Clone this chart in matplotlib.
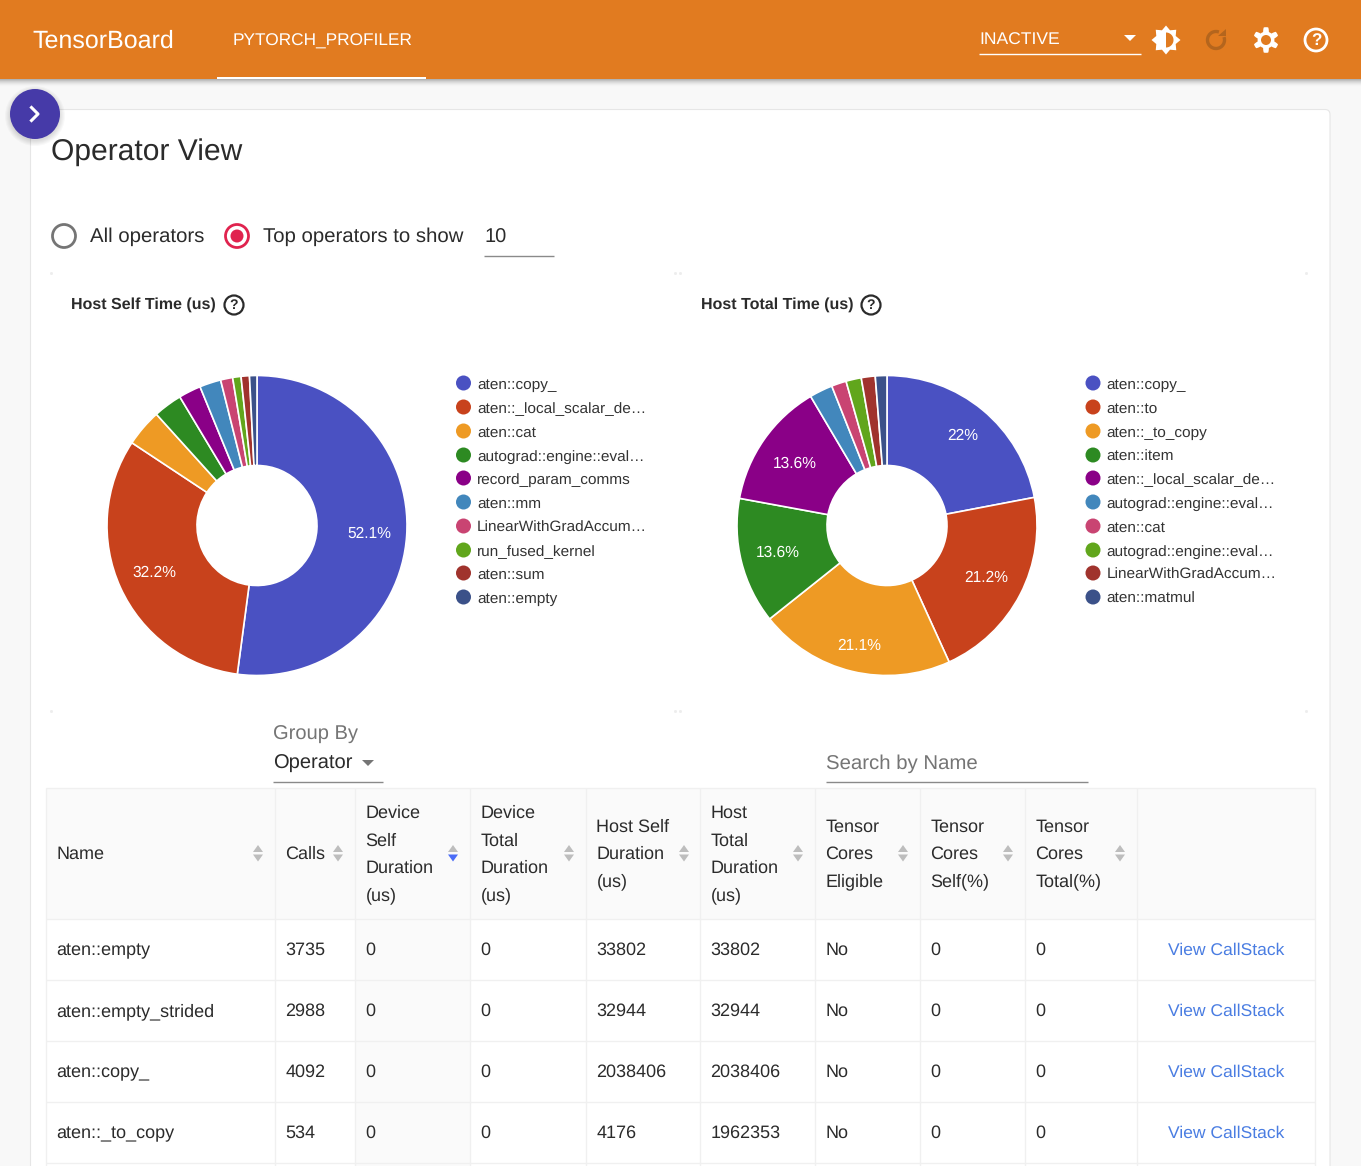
import numpy as np
import matplotlib
matplotlib.use("Agg")
import matplotlib.pyplot as plt
from matplotlib.patches import Circle, Rectangle, Polygon, Arc, FancyBboxPatch

plt.rcParams['font.family'] = ['Liberation Sans', 'DejaVu Sans']
plt.rcParams['text.hinting'] = 'none'

# chart data
self_names = ["aten::copy_", "aten::_local_scalar_de…", "aten::cat", "autograd::engine::eval…",
              "record_param_comms", "aten::mm", "LinearWithGradAccum…", "run_fused_kernel",
              "aten::sum", "aten::empty"]
self_values = [52.1, 32.2, 4.0, 3.1, 2.4, 2.3, 1.3, 0.9, 0.9, 0.8]
total_names = ["aten::copy_", "aten::to", "aten::_to_copy", "aten::item", "aten::_local_scalar_de…",
               "autograd::engine::eval…", "aten::cat", "autograd::engine::eval…",
               "LinearWithGradAccum…", "aten::matmul"]
total_values = [22, 21.2, 21.1, 13.6, 13.6, 2.5, 1.6, 1.65, 1.5, 1.25]
pie_colors = ["#4a51c2", "#c8421c", "#ee9a24", "#2d8a22", "#8a0087",
              "#4287bc", "#c94472", "#61a61c", "#a0332d", "#3b5189"]

col_headers = [["Name"], ["Calls"], ["Device", "Self", "Duration", "(us)"],
               ["Device", "Total", "Duration", "(us)"], ["Host Self", "Duration", "(us)"],
               ["Host", "Total", "Duration", "(us)"], ["Tensor", "Cores", "Eligible"],
               ["Tensor", "Cores", "Self(%)"], ["Tensor", "Cores", "Total(%)"]]
row_names = ["aten::empty", "aten::empty_strided", "aten::copy_", "aten::_to_copy"]
row_calls = [3735, 2988, 4092, 534]
row_dev_self = [0, 0, 0, 0]
row_dev_total = [0, 0, 0, 0]
row_host_self = [33802, 32944, 2038406, 4176]
row_host_total = [33802, 32944, 2038406, 1962353]
row_eligible = ["No", "No", "No", "No"]
row_core_self = [0, 0, 0, 0]
row_core_total = [0, 0, 0, 0]

W, H = 1361, 1166
ORANGE = "#e17b20"
INK = "#2b2b2b"
LINE = "#f0f0f0"

fig = plt.figure(figsize=(W / 100, H / 100), dpi=100, facecolor="#f8f8f8")
ax = fig.add_axes([0, 0, 1, 1])
ax.set_xlim(0, W)
ax.set_ylim(H, 0)
ax.axis("off")


def px(size):
    return size * 0.72


def label(x, y, s, size=18, color=INK, ha="left", z=6, **kw):
    # y is the middle of the line, so the baseline sits a bit under it
    ax.text(x, y + size * 0.34, s, fontsize=px(size), color=color, ha=ha, va="baseline", zorder=z, **kw)


def rect(x0, y0, x1, y1, color, z=1, **kw):
    ax.add_patch(Rectangle((x0, y0), x1 - x0, y1 - y0, facecolor=color, edgecolor="none", zorder=z, **kw))


def hline(x0, x1, y, color, lw=1.0, z=3):
    ax.plot([x0, x1], [y, y], color=color, lw=lw, zorder=z, solid_capstyle="butt")


def vline(x, y0, y1, color, lw=1.0, z=3):
    ax.plot([x, x], [y0, y1], color=color, lw=lw, zorder=z, solid_capstyle="butt")


def tri(cx, cy, w, h, color, up=False, z=4):
    sign = -1 if up else 1
    ax.add_patch(Polygon([(cx - w / 2, cy - sign * h / 2), (cx + w / 2, cy - sign * h / 2), (cx, cy + sign * h / 2)],
                         facecolor=color, edgecolor="none", zorder=z))


def help_icon(cx, cy, r, color, lw, size, z=6):
    ax.add_patch(Circle((cx, cy), r, facecolor="none", edgecolor=color, lw=lw, zorder=z))
    ax.text(cx, cy + 0.5, "?", fontsize=px(size), color=color, ha="center", va="center",
            fontweight="bold", zorder=z)


# page card
ax.add_patch(FancyBboxPatch((30.5, 109.5), 1299.5, 1100, boxstyle="round,pad=0,rounding_size=5",
                            facecolor="white", edgecolor="#e6e6e6", lw=0.8, zorder=1))

# top bar and its shadow
for i in range(8):
    rect(0, 79 + i, W, 80 + i, "black", z=5, alpha=0.28 * (1 - i / 8) ** 2)
rect(0, 0, W, 79, ORANGE, z=6)
rect(217, 76.5, 426, 79, "white", z=7)
label(32, 39, "TensorBoard", size=25, color="white", z=8)
label(233, 39.5, "PYTORCH_PROFILER", size=17.2, color="white", z=8)
label(979, 38.5, "INACTIVE", size=17.5, color="white", z=8)
hline(979, 1141, 54, "white", lw=1.0, z=8)
tri(1130, 38, 12, 6, "white", z=8)

# brightness icon
ang = np.deg2rad(np.arange(0, 360, 22.5))
rad = np.where(np.arange(16) % 2 == 0, 14.5, 10.5)
ax.add_patch(Polygon(np.c_[1166 + rad * np.cos(ang), 40 + rad * np.sin(ang)], facecolor="white", edgecolor="none", zorder=8))
th = np.deg2rad(np.linspace(-90, 90, 40))
ax.add_patch(Polygon(np.c_[1166 + 7.5 * np.cos(th), 40 + 7.5 * np.sin(th)], facecolor=ORANGE, edgecolor="none", zorder=9))

# refresh icon
ax.add_patch(Arc((1216, 40), 17, 17, theta1=-20, theta2=290, color="#b4651d", lw=2.4, zorder=8))
ax.add_patch(Polygon([(1218, 36), (1226, 36), (1226, 29)], facecolor="#b4651d", edgecolor="none", zorder=8))

# settings icon
a = np.linspace(0, 2 * np.pi, 240, endpoint=False)
gear = 10.6 + 2.2 * np.clip(2.0 * np.cos(6 * (a + np.pi / 2)), -1, 1)
ax.add_patch(Polygon(np.c_[1266 + gear * np.cos(a), 40 + gear * np.sin(a)], facecolor="white", edgecolor="none", zorder=8))
ax.add_patch(Circle((1266, 40), 5, facecolor=ORANGE, edgecolor="none", zorder=9))
help_icon(1316, 40, 11, "white", 2.0, 17, z=8)

# sidebar toggle
for i in range(6):
    ax.add_patch(Circle((35, 116), 30 - i, facecolor="black", alpha=0.022, edgecolor="none", zorder=9))
ax.add_patch(Circle((35, 114), 25, facecolor="#463aa8", edgecolor="none", zorder=10))
ax.plot([31.5, 38, 31.5], [107.5, 114, 120.5], color="white", lw=2.2, zorder=11)

# controls
label(51, 150, "Operator View", size=30)
ax.add_patch(Circle((64, 236), 11.5, facecolor="white", edgecolor="#757575", lw=2.0, zorder=3))
label(90, 235, "All operators", size=20.4)
ax.add_patch(Circle((237, 236), 11.5, facecolor="white", edgecolor="#e0234e", lw=2.0, zorder=3))
ax.add_patch(Circle((237, 236), 6.5, facecolor="#e0234e", edgecolor="none", zorder=4))
label(263, 235, "Top operators to show", size=20.4)
label(484.5, 235.5, "10", size=20)
hline(484, 554, 255.5, "#8a8a8a")

# chart titles
label(71, 303.5, "Host Self Time (us)", size=16, fontweight="bold")
help_icon(234, 305, 9.5, INK, 1.6, 14)
label(701, 303.5, "Host Total Time (us)", size=16, fontweight="bold")
help_icon(871, 305, 9.5, INK, 1.6, 14)

# faint corners of chart cards
for cx0, cx1 in [(51, 675), (680, 1306)]:
    for cy in [273, 711]:
        for c in [cx0, cx1]:
            ax.plot([c], [cy], marker="s", ms=1.0, color="#ededed", zorder=2)


def draw_pie(cx, values, nudges):
    r = 150
    cy = 525.5
    pie_ax = fig.add_axes([(cx - r - 2) / W, 1 - (cy + r + 2) / H, (2 * r + 4) / W, (2 * r + 4) / H])
    wedges, _, autos = pie_ax.pie(values, colors=pie_colors, radius=r, startangle=90, counterclock=False,
                                  center=(0, 0), frame=False,
                                  autopct=lambda p: f"{round(p, 1):g}%" if p > 10 else "",
                                  pctdistance=0.76,
                                  wedgeprops=dict(width=r * 0.6, edgecolor="white", linewidth=1.2),
                                  textprops=dict(color="white", fontsize=px(15.5)))
    pie_ax.set_xlim(-(r + 2), r + 2)
    pie_ax.set_ylim(-(r + 2), r + 2)
    pie_ax.set_aspect("equal")
    pie_ax.axis("off")
    # the original places its labels a little off the wedge middle
    for t, (dx, dy) in zip(autos, nudges):
        x, y = t.get_position()
        t.set_position((x + dx, y - dy))


draw_pie(257, self_values, [(-1, 1), (1, 0)])
draw_pie(887, total_values, [(3, -2), (-2, 0), (-1, 9), (1, 0), (1, 3)])

legend_rows = [383, 407, 431, 455, 478, 502, 526, 550, 573, 597]
for x0, names in [(463.5, self_names), (1093, total_names)]:
    for name, y, color in zip(names, legend_rows, pie_colors):
        ax.add_patch(Circle((x0, y), 7.5, facecolor=color, edgecolor="none", zorder=3))
        label(x0 + 13.5, y + 0.5, name, size=15.4, color="#333333")

# group by and search
label(273, 732.5, "Group By", size=20.2, color="#757575")
label(273, 761.5, "Operator", size=20.2)
tri(368, 763, 12, 6, "#757575")
hline(273, 383, 782, "#8a8a8a")
label(826, 762, "Search by Name", size=20.4, color="#757575")
hline(826, 1088, 782, "#8a8a8a")

# table
col_x = [46, 275, 355, 470, 586, 700, 815, 920, 1025, 1137, 1315]
head_top, head_bot = 788, 919
row_h = 61
rect(col_x[0], head_top, col_x[-1], head_bot, "#fafafa", z=2)
rect(col_x[2], head_bot, col_x[3], H, "#fafafa", z=2)
hline(col_x[0], col_x[-1], head_top, LINE)
for k in range(5):
    hline(col_x[0], col_x[-1], head_bot + k * row_h, LINE)
for x in col_x:
    vline(x, head_top, H, LINE)

arrow_x = [258, 338, 453, 569, 684, 798, 903, 1008, 1120]
for i, (head, x, ax_x) in enumerate(zip(col_headers, col_x, arrow_x)):
    y0 = 853 - (len(head) - 1) * 27.3 / 2
    for j, line in enumerate(head):
        label(x + 10.5, y0 + j * 27.3, line)
    tri(ax_x, 848.5, 10, 7, "#bdbdbd", up=True)
    tri(ax_x, 858, 10, 7, "#4a6cf7" if i == 2 else "#bdbdbd")

columns = [row_names, row_calls, row_dev_self, row_dev_total, row_host_self,
           row_host_total, row_eligible, row_core_self, row_core_total]
for r in range(len(row_names)):
    y = head_bot + (r + 0.5) * row_h - 0.5
    for x, col in zip(col_x, columns):
        label(x + 10.5, y, str(col[r]))
    label(1168, y, "View CallStack", size=17.5, color="#4a7de2")

fig.savefig("out.png", dpi=100, facecolor=fig.get_facecolor())
